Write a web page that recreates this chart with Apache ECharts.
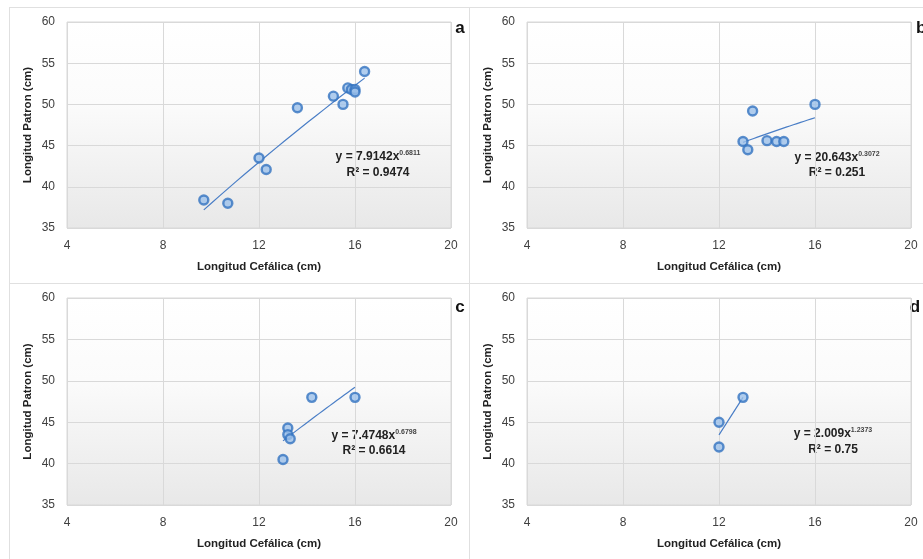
<!DOCTYPE html>
<html>
<head>
<meta charset="utf-8">
<script src="https://cdn.jsdelivr.net/npm/echarts@6/dist/echarts.min.js"></script>
<style>
  html, body { margin: 0; padding: 0; background: #fff; }
  #main { width: 923px; height: 559px; }
</style>
</head>
<body>
<div id="main"></div>
<script>
// datos (longitud cefalica vs longitud patron)
var aX = [9.7, 10.7, 12.0, 12.3, 13.6, 15.1, 15.5, 15.7, 15.85, 16.0, 16.0, 16.4];
var aY = [38.4, 38.0, 43.5, 42.1, 49.6, 51.0, 50.0, 52.0, 51.8, 51.8, 51.5, 54.0];
var bX = [13.0, 13.2, 13.4, 14.0, 14.4, 14.7, 16.0];
var bY = [45.5, 44.5, 49.2, 45.6, 45.5, 45.5, 50.0];
var cX = [13.0, 13.2, 13.2, 13.3, 14.2, 16.0];
var cY = [40.5, 44.3, 43.5, 43.0, 48.0, 48.0];
var dX = [12.0, 12.0, 13.0];
var dY = [45.0, 42.0, 48.0];

// tendencia potencial y = k * x^p, R2
var coefK = [7.9142, 20.643, 7.4748, 2.009];
var coefP = [0.6811, 0.3072, 0.6798, 1.2373];
var eqK = ['7.9142', '20.643', '7.4748', '2.009'];
var eqP = ['0.6811', '0.3072', '0.6798', '1.2373'];
var eqR2 = ['0.9474', '0.251', '0.6614', '0.75'];
var letras = ['a', 'b', 'c', 'd'];

var xMin = 4, xMax = 20, xStep = 4;
var yMin = 35, yMax = 60, yStep = 5;

var FONT = "'Liberation Sans Narrow', 'Arial Narrow', 'Liberation Sans', Arial, sans-serif";
var AZUL = '#4a7ec6';

var panelX = [aX, bX, cX, dX];
var panelY = [aY, bY, cY, dY];

// posiciones de cada panel
var grids = [
    { left: 67, top: 22, width: 384, height: 206 },
    { left: 527, top: 22, width: 384, height: 206 },
    { left: 67, top: 298, width: 384, height: 207 },
    { left: 527, top: 298, width: 384, height: 207 }
];
var eqPos = [[378, 157, 173], [837, 158, 173], [374, 436, 451], [833, 434, 450]];
var letraPos = [[460, 28, 'center'], [916, 28, 'left'], [460, 307, 'center'], [915, 307, 'center']];

function tendencia(i) {
    var xs = panelX[i];
    var x0 = Math.min.apply(null, xs), x1 = Math.max.apply(null, xs);
    var pts = [];
    for (var s = 0; s <= 20; s++) {
        var x = x0 + (x1 - x0) * s / 20;
        pts.push([x, coefK[i] * Math.pow(x, coefP[i])]);
    }
    return pts;
}

var myChart = echarts.init(document.getElementById('main'));

var option = {
    backgroundColor: '#fff',
    animation: false,
    grid: [],
    xAxis: [],
    yAxis: [],
    series: [],
    graphic: []
};

for (var i = 0; i < 4; i++) {
    var g = grids[i];
    option.grid.push({
        left: g.left, top: g.top, width: g.width, height: g.height,
        show: true,
        borderColor: '#d9d9d9',
        borderWidth: 1,
        backgroundColor: new echarts.graphic.LinearGradient(0, 0, 0, 1, [
            { offset: 0, color: '#ffffff' },
            { offset: 0.4, color: '#fbfbfb' },
            { offset: 1, color: '#e8e8e8' }
        ])
    });
    option.xAxis.push({
        type: 'value', gridIndex: i,
        min: xMin, max: xMax, interval: xStep,
        name: 'Longitud Cefálica (cm)',
        nameLocation: 'middle', nameGap: 33,
        nameTextStyle: { fontFamily: FONT, fontWeight: 'bold', fontSize: 11.5, color: '#222' },
        axisLine: { show: false },
        axisTick: { show: false },
        axisLabel: { fontFamily: FONT, fontSize: 12, color: '#404040', margin: 12 },
        splitLine: { lineStyle: { color: '#d9d9d9' } }
    });
    option.yAxis.push({
        type: 'value', gridIndex: i,
        min: yMin, max: yMax, interval: yStep,
        name: 'Longitud Patron (cm)',
        nameLocation: 'middle', nameGap: 33,
        nameTextStyle: { fontFamily: FONT, fontWeight: 'bold', fontSize: 11.5, color: '#222' },
        axisLine: { show: false },
        axisTick: { show: false },
        axisLabel: { fontFamily: FONT, fontSize: 12, color: '#404040', margin: 12 },
        splitLine: { lineStyle: { color: '#d9d9d9' } }
    });
    option.series.push({
        type: 'line',
        xAxisIndex: i, yAxisIndex: i,
        data: tendencia(i),
        showSymbol: false,
        smooth: false,
        lineStyle: { color: AZUL, width: 1.2 },
        z: 2
    });
    option.series.push({
        type: 'scatter',
        xAxisIndex: i, yAxisIndex: i,
        data: panelX[i].map(function (x, j) { return [x, panelY[i][j]]; }),
        symbolSize: 9,
        itemStyle: { color: '#9cc0ea', borderColor: '#3373c0', borderWidth: 2.4 },
        z: 3
    });

    // ecuacion de tendencia
    option.graphic.push({
        type: 'text', x: eqPos[i][0], y: eqPos[i][1],
        style: {
            text: '{m|y = ' + eqK[i] + 'x}{s|' + eqP[i] + '}',
            align: 'center', verticalAlign: 'middle',
            rich: {
                m: { fontFamily: FONT, fontWeight: 'bold', fontSize: 12, fill: '#222', lineHeight: 14 },
                s: { fontFamily: FONT, fontWeight: 'bold', fontSize: 7, fill: '#444', verticalAlign: 'top', lineHeight: 14 }
            }
        }
    });
    option.graphic.push({
        type: 'text', x: eqPos[i][0], y: eqPos[i][2],
        style: {
            text: 'R² = ' + eqR2[i],
            align: 'center', verticalAlign: 'middle',
            fontFamily: FONT, fontWeight: 'bold', fontSize: 12, fill: '#222'
        }
    });
    // letra del panel
    option.graphic.push({
        type: 'text', x: letraPos[i][0], y: letraPos[i][1],
        style: {
            text: letras[i],
            align: letraPos[i][2], verticalAlign: 'middle',
            fontFamily: "'Liberation Sans', Arial, sans-serif", fontWeight: 'bold', fontSize: 17, fill: '#111'
        }
    });
}

// marcos de los paneles
var marco = { stroke: '#e0e0e0', lineWidth: 1 };
option.graphic.push(
    { type: 'line', shape: { x1: 9, y1: 7.5, x2: 923, y2: 7.5 }, style: marco },
    { type: 'line', shape: { x1: 9.5, y1: 7, x2: 9.5, y2: 559 }, style: marco },
    { type: 'line', shape: { x1: 469.5, y1: 7, x2: 469.5, y2: 559 }, style: marco },
    { type: 'line', shape: { x1: 9, y1: 283.5, x2: 923, y2: 283.5 }, style: marco }
);

myChart.setOption(option);
</script>
</body>
</html>
